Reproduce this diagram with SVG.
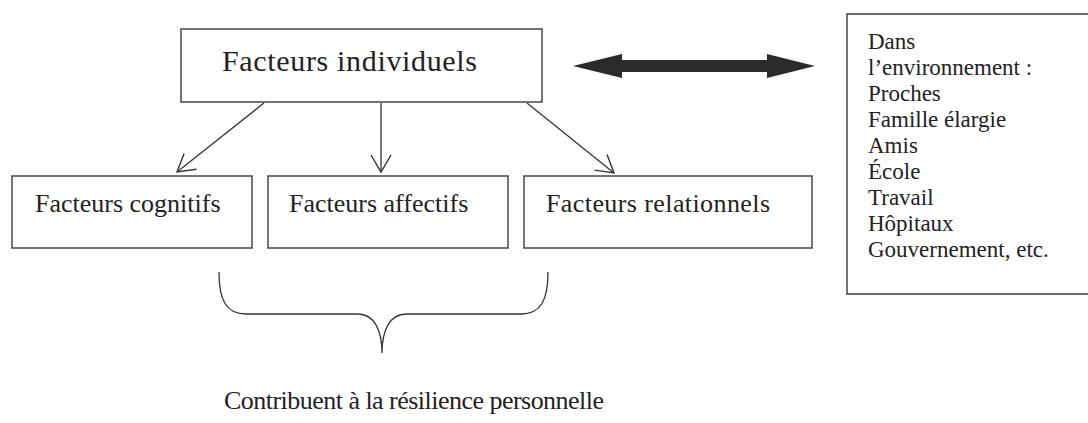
<svg xmlns="http://www.w3.org/2000/svg" width="1088" height="423" viewBox="0 0 1088 423">
<style>
.box{fill:#fff;stroke:#3a3a3a;stroke-width:1.4}
.t{font-family:"Liberation Serif","Times New Roman",serif;fill:#222}
.c{fill:none;stroke:#333;stroke-width:1.3}
</style>
<defs>
<marker id="ah" viewBox="0 0 20 22" refX="18" refY="11" markerWidth="20" markerHeight="22" markerUnits="userSpaceOnUse" orient="auto">
<path d="M1,1 L18,11 L1,21" fill="none" stroke="#333" stroke-width="1.4"/>
</marker>
</defs>
<rect width="1088" height="423" fill="#fff"/>
<g id="node-individuels">
<rect class="box" x="181" y="29" width="361" height="73"/>
<text class="t" x="222" y="71" font-size="30" textLength="255">Facteurs individuels</text>
</g>
<g id="node-environnement">
<path class="box" d="M1090,14 L847,14 L847,294 L1090,294"/>
<text class="t" font-size="23">
<tspan x="868" y="49">Dans</tspan>
<tspan x="868" y="75">l’environnement :</tspan>
<tspan x="868" y="101">Proches</tspan>
<tspan x="868" y="127">Famille élargie</tspan>
<tspan x="868" y="153">Amis</tspan>
<tspan x="868" y="179">École</tspan>
<tspan x="868" y="205">Travail</tspan>
<tspan x="868" y="231">Hôpitaux</tspan>
<tspan x="868" y="257">Gouvernement, etc.</tspan>
</text>
</g>
<g id="node-cognitifs">
<rect class="box" x="12" y="176" width="240" height="72"/>
<text class="t" x="35" y="212" font-size="26">Facteurs cognitifs</text>
</g>
<g id="node-affectifs">
<rect class="box" x="268" y="176" width="240" height="72"/>
<text class="t" x="289" y="212" font-size="26">Facteurs affectifs</text>
</g>
<g id="node-relationnels">
<rect class="box" x="524" y="176" width="288" height="72"/>
<text class="t" x="546" y="212" font-size="26" textLength="224">Facteurs relationnels</text>
</g>
<g id="node-resilience">
<path class="c" d="M219,272 C219,300 226,314 246,314 L358,314 C374,314 382,330 382,353 C382,330 390,314 406,314 L521,314 C541,314 548,300 548,272"/>
<text class="t" x="224" y="409" font-size="26" textLength="380">Contribuent à la résilience personnelle</text>
</g>
<g id="connectors">
<line class="c" x1="264" y1="103" x2="177" y2="172" marker-end="url(#ah)"/>
<line class="c" x1="381" y1="103" x2="381" y2="172" marker-end="url(#ah)"/>
<line class="c" x1="527" y1="103" x2="614" y2="173" marker-end="url(#ah)"/>
<path d="M573,66 L622,54 L622,60 L767,60 L767,54 L815,66 L767,78 L767,72 L622,72 L622,78 Z" fill="#2a2a2a"/>
</g>
</svg>
